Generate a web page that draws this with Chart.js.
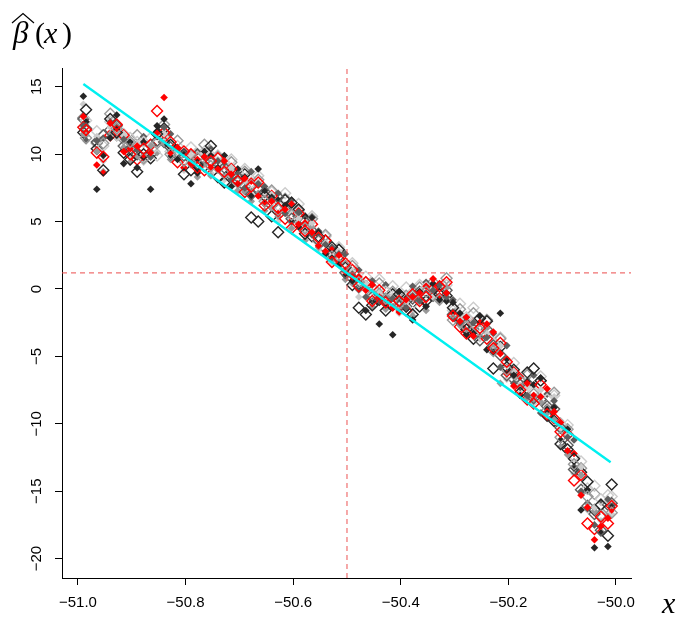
<!DOCTYPE html>
<html>
<head>
<meta charset="UTF-8">
<title>beta hat</title>
<script src="https://cdn.jsdelivr.net/npm/chart.js"></script>
<style>
  body { margin: 0; background: #fff; }
  #wrap { width: 680px; height: 618px; }
</style>
</head>
<body>
<div id="wrap"><canvas id="c" width="680" height="618"></canvas></div>
<script>
// tick values / labels
const xTicks = [-51.0, -50.8, -50.6, -50.4, -50.2, -50.0];
const xTickLabels = ["\u221251.0", "\u221250.8", "\u221250.6", "\u221250.4", "\u221250.2", "\u221250.0"];
const yTicks = [15, 10, 5, 0, -5, -10, -15, -20];
const yTickLabels = ["15", "10", "5", "0", "\u22125", "\u221210", "\u221215", "\u221220"];

// two interleaved x grids
const xA = [-50.990,-50.965,-50.940,-50.915,-50.890,-50.865,-50.840,-50.815,-50.790,-50.765,
            -50.740,-50.715,-50.690,-50.665,-50.640,-50.615,-50.590,-50.565,-50.540,-50.515,
            -50.490,-50.465,-50.440,-50.415,-50.390,-50.365,-50.340,-50.315,-50.290,-50.265,
            -50.240,-50.215,-50.190,-50.165,-50.140,-50.115,-50.090,-50.065,-50.040,-50.015];
const xB = [-50.985,-50.953,-50.928,-50.903,-50.878,-50.853,-50.828,-50.803,-50.778,-50.753,
            -50.728,-50.703,-50.678,-50.653,-50.628,-50.603,-50.578,-50.553,-50.528,-50.503,
            -50.478,-50.453,-50.428,-50.403,-50.378,-50.353,-50.328,-50.303,-50.278,-50.253,
            -50.228,-50.203,-50.178,-50.153,-50.128,-50.103,-50.078,-50.053,-50.028,-50.008];

// filled diamonds on grid A
const blackFill = [14.3, 7.4, 11.2, 9.3, 9.0, 7.4, 12.6, 9.6, 7.8, 10.2, 9.0, 7.6, 8.3, 8.9, 6.8, 6.2, 4.6, 5.3, 2.6, 1.8,
                   0.6, -1.6, -2.6, -3.4, -1.5, -0.2, 0.4, -0.9, -1.8, -3.3, -4.5, -1.8, -6.4, -6.9, -6.6, -8.8, -10.4, -16.4, -19.2, -19.1];
const dkgrayFill = [12.1, 11.0, 12.4, 11.1, 10.3, 9.8, 12.0, 10.4, 9.4, 9.8, 9.5, 8.1, 7.5, 7.8, 6.6, 5.6, 5.7, 4.0, 3.3, 2.6,
                    1.1, -0.6, -0.9, -0.7, -1.4, -0.9, -0.1, -0.6, -2.5, -2.5, -3.6, -5.8, -7.0, -7.9, -9.2, -8.3, -11.0, -15.0, -17.5, -15.6];
const grayFill = [11.5, 10.2, 11.5, 10.5, 9.9, 10.6, 10.8, 9.7, 9.2, 9.3, 8.8, 8.4, 7.2, 7.1, 6.0, 6.1, 4.9, 4.6, 2.7, 2.0,
                  0.4, 0.1, -0.2, -1.3, -0.9, -0.4, -0.6, 0.1, -2.7, -3.1, -2.9, -7.0, -6.5, -8.1, -8.4, -9.7, -12.3, -13.8, -16.5, -16.9];
const ltgrayFill = [13.7, 11.3, 12.0, 11.5, 10.8, 10.1, 11.5, 10.3, 9.9, 9.7, 9.6, 9.0, 8.0, 7.9, 7.0, 6.0, 5.2, 4.9, 3.4, 2.8,
                    1.3, 0.4, -0.3, -0.5, -1.0, -0.3, -0.6, -0.7, -2.0, -2.4, -3.3, -4.2, -6.1, -7.3, -7.5, -8.0, -10.7, -13.2, -16.2, -15.8];
const redFill = [12.8, 9.2, 12.3, 10.2, 10.6, 10.1, 14.2, 10.5, 9.3, 9.8, 8.9, 8.5, 8.2, 6.9, 6.5, 5.9, 4.8, 4.2, 2.8, 2.5,
                 0.9, -0.1, -0.6, -1.4, -0.8, -0.3, 0.75, -0.3, -2.4, -3.5, -2.6, -4.8, -7.2, -7.0, -8.0, -9.1, -12.0, -15.3, -18.6, -17.0];

// filled diamonds on grid B
const blackFillB = [12.4, 9.9, 12.9, 10.9, 10.9, 12.1, 9.8, 10.2, 8.6, 9.9, 9.9, 8.9, 6.9, 7.3, 6.6, 5.0, 5.4, 4.2, 2.3, 1.0,
                    0.0, -0.9, -1.1, -0.2, -2.3, -1.3, -0.8, -1.0, -3.4, -2.0, -4.7, -5.2, -7.9, -7.1, -8.8, -11.2, -13.3, -14.9, -18.1, -16.2];
const dkgrayFillB = [11.0, 11.2, 12.1, 10.6, 11.3, 11.7, 11.5, 10.0, 10.2, 10.4, 9.2, 8.5, 8.7, 7.6, 7.1, 6.6, 5.4, 4.3, 3.1, 2.6,
                     1.4, 0.6, 0.3, -0.7, 0.2, 0.5, 0.3, -0.8, -2.1, -2.5, -3.3, -4.2, -6.5, -6.4, -7.8, -9.8, -11.2, -15.0, -15.8, -16.0];
const grayFillB = [11.4, 8.7, 11.2, 9.4, 9.7, 10.1, 9.6, 9.0, 8.3, 8.4, 8.4, 7.3, 6.5, 5.8, 5.4, 4.5, 3.6, 3.1, 2.0, 0.7,
                   -0.1, -1.3, -1.5, -1.6, -2.0, -1.6, -0.9, -2.1, -3.3, -3.5, -4.3, -6.2, -7.2, -8.2, -9.2, -11.7, -13.2, -15.9, -18.0, -16.1];
const ltgrayFillB = [11.0, 9.5, 11.5, 9.8, 9.4, 10.2, 9.8, 8.8, 8.7, 8.6, 8.1, 7.2, 7.0, 6.3, 5.0, 4.9, 4.2, 2.9, 2.0, 1.0,
                     -0.6, -1.0, -1.4, -1.8, -1.7, -1.2, -0.7, -1.9, -3.2, -3.7, -4.4, -6.7, -7.7, -8.5, -8.7, -10.5, -13.7, -16.4, -17.2, -16.7];
const redFillB = [11.6, 8.6, 11.9, 10.4, 9.8, 11.6, 10.1, 9.0, 9.6, 9.0, 9.5, 7.8, 8.0, 6.3, 5.6, 6.3, 4.9, 3.2, 2.9, 1.3,
                  0.9, 0.3, -1.0, -1.7, -0.6, 0.2, -0.5, -1.8, -2.1, -2.5, -3.2, -6.3, -6.5, -7.9, -7.4, -9.9, -12.2, -16.2, -17.6, -16.4];

// open diamonds on grid B
const blackOpen = [13.3, 8.8, 11.6, 9.6, 10.0, 11.5, 10.7, 8.5, 9.2, 10.6, 7.9, 8.0, 5.3, 6.9, 4.2, 6.4, 4.1, 3.9, 3.1, 1.6,
                   -1.4, -1.2, -1.6, -0.4, -1.9, -0.9, -0.4, -1.4, -3.0, -2.2, -5.9, -5.8, -7.7, -5.9, -9.4, -11.5, -12.6, -14.3, -16.0, -14.5];
const dkgrayOpen = [11.9, 11.4, 12.1, 10.4, 10.4, 11.0, 10.5, 9.9, 9.3, 9.4, 9.0, 8.3, 7.0, 7.2, 6.8, 5.2, 5.0, 3.6, 2.6, 1.2,
                    0.3, -0.6, -0.9, -1.3, -0.7, -0.5, -0.2, -1.9, -2.6, -3.8, -4.2, -6.4, -7.1, -8.1, -8.7, -10.3, -13.4, -16.1, -17.9, -15.9];
const grayOpen = [11.2, 10.8, 11.9, 10.9, 9.7, 10.8, 10.0, 9.5, 9.7, 9.1, 8.6, 7.9, 7.7, 6.5, 5.9, 5.5, 4.5, 3.8, 2.4, 1.7,
                  0.5, -0.4, -0.7, -1.1, -0.5, -0.2, -0.8, -2.3, -2.8, -3.1, -4.6, -6.0, -6.8, -7.8, -9.0, -11.0, -13.0, -15.4, -16.8, -16.6];
const ltgrayOpen = [12.5, 10.6, 11.4, 11.2, 10.9, 9.9, 10.2, 9.6, 9.8, 9.9, 9.4, 8.7, 7.9, 6.7, 6.2, 5.4, 4.7, 3.5, 2.2, 1.5,
                    0.7, 0.0, -0.2, -0.8, -1.1, 0.1, -0.4, -1.6, -2.1, -3.4, -4.0, -5.5, -6.6, -7.6, -8.2, -10.0, -12.4, -14.8, -15.6, -15.4];
const redOpen = [11.8, 9.8, 12.2, 10.0, 10.4, 13.2, 10.9, 10.2, 9.0, 9.5, 8.7, 8.0, 7.6, 6.2, 6.0, 4.5, 4.3, 3.8, 2.0, 1.9,
                 0.2, -0.9, -1.0, -0.9, -0.4, -0.6, 0.2, -2.0, -3.3, -2.9, -4.4, -5.4, -7.5, -8.5, -9.3, -10.6, -14.2, -17.4, -16.9, -16.1];

// open diamonds on grid A
const blackOpenB = [11.6, 10.4, 12.6, 10.1, 8.7, 9.7, 11.9, 9.9, 8.8, 9.1, 8.3, 8.7, 8.5, 5.0, 5.4, 6.6, 5.9, 3.9, 3.6, 2.9,
                    0.3, -1.9, -0.8, -0.4, -0.9, -1.3, 0.1, -0.5, -2.2, -3.7, -2.4, -4.3, -6.0, -6.2, -6.8, -9.8, -11.9, -13.6, -16.4, -18.3];
const dkgrayOpenB = [12.6, 10.9, 11.8, 10.6, 10.0, 10.0, 10.9, 10.1, 9.6, 9.5, 9.3, 8.4, 7.6, 7.4, 6.2, 5.9, 5.4, 4.3, 3.0, 2.4,
                     0.8, 0.2, -0.4, -0.9, -1.3, -0.2, -0.5, -0.1, -2.4, -3.0, -3.0, -4.9, -6.7, -7.0, -8.2, -8.9, -11.6, -14.9, -16.7, -16.0];
const grayOpenB = [12.7, 10.8, 13.0, 11.1, 11.4, 10.7, 12.2, 11.0, 9.9, 10.7, 9.8, 9.4, 8.7, 8.1, 7.3, 6.7, 5.8, 5.2, 4.0, 2.9,
                   1.7, 0.5, 0.4, -0.2, -0.5, 0.1, 0.5, 0.8, -1.5, -1.8, -2.3, -3.7, -6.2, -6.4, -6.8, -7.7, -10.4, -13.3, -15.2, -16.3];
const ltgrayOpenB = [12.0, 11.7, 12.4, 11.5, 10.9, 11.2, 11.4, 10.6, 10.5, 10.2, 9.9, 9.6, 8.9, 8.4, 7.2, 7.1, 6.3, 5.4, 3.9, 3.1,
                     1.9, 0.9, 0.7, 0.2, 0.1, 0.3, -0.1, 0.3, -1.1, -1.4, -2.3, -3.6, -5.5, -6.3, -6.5, -7.9, -10.1, -12.8, -14.6, -15.3];
const redOpenB = [12.0, 10.1, 11.4, 11.4, 9.6, 10.7, 11.6, 9.4, 10.0, 8.8, 9.7, 8.9, 7.2, 7.9, 6.9, 5.2, 5.6, 4.8, 3.6, 2.2,
                  1.4, 0.5, -0.1, -1.2, -1.6, -0.9, 0.0, 0.5, -2.8, -2.6, -3.7, -4.0, -6.2, -8.2, -7.1, -9.6, -10.8, -13.8, -17.8, -17.4];

// fitted straight line and reference lines
const fitX = [-50.99, -50.01];
const fitY = [15.2, -12.85];
const refX = -50.5;
const refY = 1.2;

const xMin = -51.0297, xMax = -49.9721;
const yMin = -21.44, yMax = 16.39;

function pts(xs, ys) {
    return ys.map((v, i) => ({ x: xs[i], y: v }));
}

function filled(xs, ys, col) {
    return { type: 'scatter', data: pts(xs, ys), pointStyle: 'rectRot',
             pointRadius: 3.8, pointBorderWidth: 0, backgroundColor: col, borderColor: col };
}
function open(xs, ys, col) {
    return { type: 'scatter', data: pts(xs, ys), pointStyle: 'rectRot',
             pointRadius: 5.5, pointBorderWidth: 1.4, backgroundColor: 'rgba(0,0,0,0)', borderColor: col };
}

const RED = '#ff0000', BLACK = '#262626', DKGRAY = '#5e5e5e', GRAY = '#999999', LTGRAY = '#cccccc';

// first dataset is painted last (on top)
const datasets = [
    { type: 'line', data: pts(fitX, fitY), borderColor: '#00f0f0', borderWidth: 2.4, pointRadius: 0 },
    { type: 'line', data: [{ x: refX, y: yMin }, { x: refX, y: yMax }],
      borderColor: 'rgba(235,75,75,0.8)', borderWidth: 1.2, borderDash: [5, 4], pointRadius: 0 },
    { type: 'line', data: [{ x: xMin, y: refY }, { x: xMax, y: refY }],
      borderColor: 'rgba(235,75,75,0.8)', borderWidth: 1.2, borderDash: [5, 4], pointRadius: 0 },
    filled(xA, redFill, RED),
    open(xB, redOpen, RED),
    filled(xA, dkgrayFill, DKGRAY),
    filled(xA, blackFill, BLACK),
    open(xB, grayOpen, GRAY),
    open(xB, blackOpen, BLACK),
    filled(xB, redFillB, RED),
    filled(xA, ltgrayFill, LTGRAY),
    open(xB, dkgrayOpen, DKGRAY),
    filled(xA, grayFill, GRAY),
    open(xA, redOpenB, RED),
    filled(xB, blackFillB, BLACK),
    open(xB, ltgrayOpen, LTGRAY),
    filled(xB, dkgrayFillB, DKGRAY),
    filled(xB, grayFillB, GRAY),
    open(xA, blackOpenB, BLACK),
    filled(xB, ltgrayFillB, LTGRAY),
    open(xA, dkgrayOpenB, DKGRAY),
    open(xA, grayOpenB, GRAY),
    open(xA, ltgrayOpenB, LTGRAY)
];

// rotated y labels, the beta-hat title and the x label
const extras = {
    id: 'extras',
    afterDraw(chart) {
        const ctx = chart.ctx;
        const ys = chart.scales.y;
        ctx.save();
        ctx.fillStyle = '#000';
        ctx.font = '15px "Liberation Sans", Arial, sans-serif';
        ctx.textAlign = 'center';
        ctx.textBaseline = 'middle';
        yTicks.forEach((v, i) => {
            const py = ys.getPixelForValue(v);
            ctx.save();
            ctx.translate(37, py);
            ctx.rotate(-Math.PI / 2);
            ctx.fillText(yTickLabels[i], 0, 0);
            ctx.restore();
        });

        // title
        ctx.textAlign = 'left';
        ctx.textBaseline = 'alphabetic';
        ctx.font = 'italic 31px "Liberation Serif", serif';
        ctx.fillText('\u03B2', 13, 43);
        ctx.font = '30px "Liberation Serif", serif';
        ctx.fillText('(', 35, 43);
        ctx.font = 'italic 30px "Liberation Serif", serif';
        ctx.fillText('x', 44, 43);
        ctx.font = '30px "Liberation Serif", serif';
        ctx.fillText(')', 62, 43);
        // hat
        ctx.strokeStyle = '#000';
        ctx.lineWidth = 1.2;
        ctx.beginPath();
        ctx.moveTo(12, 23);
        ctx.lineTo(23, 13.5);
        ctx.lineTo(34, 23);
        ctx.stroke();

        // x axis label
        ctx.font = 'italic 30px "Liberation Serif", serif';
        ctx.fillText('x', 662, 613);
        ctx.restore();
    }
};

new Chart(document.getElementById('c'), {
    data: { datasets: datasets },
    options: {
        responsive: false,
        animation: false,
        events: [],
        layout: { padding: { top: 68, right: 49, left: 0, bottom: 0 } },
        plugins: { legend: { display: false }, tooltip: { enabled: false } },
        scales: {
            x: {
                type: 'linear', min: xMin, max: xMax,
                afterBuildTicks: s => { s.ticks = xTicks.map(v => ({ value: v })); },
                afterFit: s => { s.height = 40; },
                grid: { display: true, drawOnChartArea: false, drawTicks: true, tickLength: 7, color: '#000', tickWidth: 1 },
                border: { display: true, color: '#000', width: 1 },
                ticks: {
                    color: '#000', padding: 9, maxRotation: 0, autoSkip: false,
                    font: { family: '"Liberation Sans", Arial, sans-serif', size: 15 },
                    callback: (v, i) => xTickLabels[i]
                }
            },
            y: {
                type: 'linear', min: yMin, max: yMax,
                afterBuildTicks: s => { s.ticks = yTicks.map(v => ({ value: v })); },
                afterFit: s => { s.width = 62; },
                grid: { display: true, drawOnChartArea: false, drawTicks: true, tickLength: 7, color: '#000', tickWidth: 1 },
                border: { display: true, color: '#000', width: 1 },
                ticks: { display: false }
            }
        }
    },
    plugins: [extras]
});
</script>
</body>
</html>
